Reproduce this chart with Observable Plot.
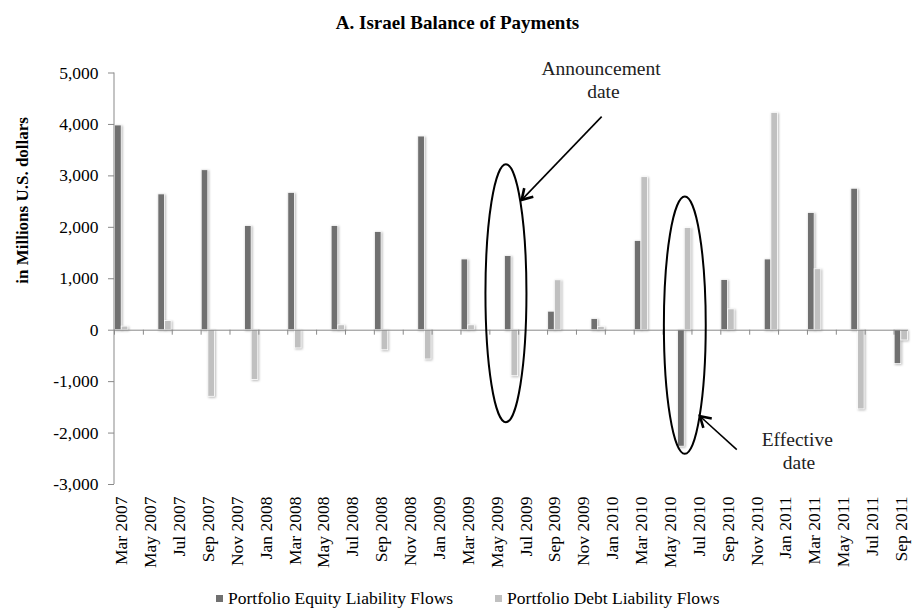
<!DOCTYPE html>
<html>
<head>
<meta charset="utf-8">
<script src="https://cdn.jsdelivr.net/npm/d3@7"></script>
<script src="https://cdn.jsdelivr.net/npm/@observablehq/plot@0.6"></script>
<style>
  body { margin: 0; background: #fff; font-family: 'Liberation Serif', 'Times New Roman', Times, serif; }
  #wrap { width: 915px; height: 616px; position: relative; background: #fff; }
  #title { height: 40px; box-sizing: border-box; padding-top: 7px; line-height: 32px; text-align: center; font-weight: bold; font-size: 19px; color: #000; }
  #legend { height: 36px; line-height: 36px; display: flex; align-items: center; padding-left: 216px; font-size: 17.5px; color: #000; }
  #legend .item { display: flex; align-items: center; }
  #legend .sw { width: 7px; height: 7px; margin-right: 5px; }
  #legend .item + .item { margin-left: 42px; }
  #chart svg text { font-family: 'Liberation Serif', 'Times New Roman', Times, serif; }
  #chart svg g[aria-label="bar"] { filter: drop-shadow(1.2px 1px 1px rgba(0,0,0,0.28)); }
</style>
</head>
<body>
<div id="wrap">
  <div id="title">A. Israel Balance of Payments</div>
  <div id="chart"></div>
  <div id="legend"></div>
</div>
<script>
// ---- data (millions of U.S. dollars, quarterly) ----
const quarters = ["Mar 2007","Jun 2007","Sep 2007","Dec 2007","Mar 2008","Jun 2008","Sep 2008","Dec 2008",
  "Mar 2009","Jun 2009","Sep 2009","Dec 2009","Mar 2010","Jun 2010","Sep 2010","Dec 2010","Mar 2011","Jun 2011","Sep 2011"];
const equity = [3980, 2640, 3110, 2025, 2670, 2025, 1910, 3765, 1375, 1440, 360, 215, 1735, -2265, 975, 1375, 2280, 2750, -660];
const debt   = [70, 180, -1295, -970, -355, 95, -390, -570, 95, -895, 970, 65, 2975, 1985, 405, 4225, 1185, -1540, -200];
const tickLabels = ["Mar 2007","May 2007","Jul 2007","Sep 2007","Nov 2007","Jan 2008","Mar 2008","May 2008","Jul 2008",
  "Sep 2008","Nov 2008","Jan 2009","Mar 2009","May 2009","Jul 2009","Sep 2009","Nov 2009","Jan 2010","Mar 2010",
  "May 2010","Jul 2010","Sep 2010","Nov 2010","Jan 2011","Mar 2011","May 2011","Jul 2011","Sep 2011"];
const yTicks = [-3000, -2000, -1000, 0, 1000, 2000, 3000, 4000, 5000];
const seriesNames = ["Portfolio Equity Liability Flows", "Portfolio Debt Liability Flows"];
const seriesColors = ["#707070", "#c0c0c0"];
const titleText = "A. Israel Balance of Payments";
const yLabel = "in Millions U.S. dollars";

// annotations (month slot + fraction of slot, value in data units)
const ellipses = [
  {month: "Jun 2009", shift: -0.35, halfWidth: 1.42, top: 3217, bottom: -1800},
  {month: "Jun 2010", shift: 0.04, halfWidth: 1.45, top: 2588, bottom: -2413}
];
const arrows = [
  {fromMonth: "Dec 2009", fromShift: 0.28, fromValue: 4142, toMonth: "Jul 2009", toShift: -0.26, toValue: 2524},
  {fromMonth: "Oct 2010", fromShift: -0.36, fromValue: -2330, toMonth: "Jul 2010", toShift: 0.09, toValue: -1683}
];
const notes = [
  {month: "Dec 2009", shift: 0.24, value: 4951, text: "Announcement"},
  {month: "Dec 2009", shift: 0.4, value: 4505, text: "date"},
  {month: "Feb 2011", shift: -0.17, value: -2266, text: "Effective"},
  {month: "Feb 2011", shift: -0.05, value: -2718, text: "date"}
];

// ---- layout ----
const W = 915, H = 540, ML = 114, MR = 7, MT = 32.5, MB = 96;
const FONT = "'Liberation Serif', 'Times New Roman', Times, serif";
const fmtMonth = d3.utcFormat("%b %Y");
const months = d3.utcMonth.range(new Date(Date.UTC(2007, 2, 1)), new Date(Date.UTC(2011, 9, 1))).map(fmtMonth);
const bw = (W - ML - MR) / months.length;
const rows = quarters.map((q, i) => ({quarter: q, equity: equity[i], debt: debt[i]}));
const axisGray = "#898989";

document.getElementById("title").textContent = titleText;

function annotate(index, scales, values, dims) {
  const x = scales.x, y = scales.y;
  const b = x.bandwidth();
  const px = (m, f) => x(m) + b / 2 + f * b;
  const g = d3.create("svg:g");
  // vertical axis line
  g.append("line")
    .attr("x1", dims.marginLeft).attr("x2", dims.marginLeft)
    .attr("y1", dims.marginTop).attr("y2", dims.height - dims.marginBottom)
    .attr("stroke", axisGray);
  for (const e of ellipses) {
    g.append("ellipse")
      .attr("cx", px(e.month, e.shift))
      .attr("cy", (y(e.top) + y(e.bottom)) / 2)
      .attr("rx", e.halfWidth * b)
      .attr("ry", Math.abs(y(e.bottom) - y(e.top)) / 2)
      .attr("fill", "none").attr("stroke", "#000").attr("stroke-width", 2);
  }
  for (const a of arrows) {
    const x1 = px(a.fromMonth, a.fromShift), y1 = y(a.fromValue);
    const x2 = px(a.toMonth, a.toShift), y2 = y(a.toValue);
    g.append("line").attr("x1", x1).attr("y1", y1).attr("x2", x2).attr("y2", y2)
      .attr("stroke", "#000").attr("stroke-width", 1.6);
    const ang = Math.atan2(y1 - y2, x1 - x2), L = 12, spread = 0.55;
    g.append("path")
      .attr("d", `M${x2 + L * Math.cos(ang - spread)},${y2 + L * Math.sin(ang - spread)}L${x2},${y2}L${x2 + L * Math.cos(ang + spread)},${y2 + L * Math.sin(ang + spread)}`)
      .attr("fill", "none").attr("stroke", "#000").attr("stroke-width", 2.6).attr("stroke-linejoin", "miter");
  }
  for (const n of notes) {
    g.append("text").attr("x", px(n.month, n.shift)).attr("y", y(n.value))
      .attr("text-anchor", "middle").attr("font-size", 19.5).attr("fill", "#222")
      .attr("font-family", FONT).text(n.text);
  }
  return g.node();
}

const chart = Plot.plot({
  width: W, height: H,
  marginLeft: ML, marginRight: MR, marginTop: MT, marginBottom: MB,
  style: {fontFamily: FONT, fontSize: "17.5px", color: "#000", background: "#fff", overflow: "visible"},
  x: {type: "band", domain: months, padding: 0, round: false, axis: null, label: null},
  y: {domain: [-3000, 5000], axis: null, label: null},
  marks: [
    Plot.barY(rows, {x: "quarter", y: "equity", fill: seriesColors[0], stroke: "#fff", strokeWidth: 0.8,
      insetLeft: bw * 0.04, insetRight: bw * 0.5}),
    Plot.barY(rows, {x: "quarter", y: "debt", fill: seriesColors[1], stroke: "#fff", strokeWidth: 0.8,
      insetLeft: bw * 0.5, insetRight: bw * 0.04}),
    Plot.ruleY([0], {stroke: axisGray, strokeWidth: 1}),
    Plot.ruleX(tickLabels, {x: d => d, y1: 0, y2: 0, insetBottom: -5, dx: -bw / 2, stroke: axisGray}),
    Plot.axisY(yTicks, {anchor: "left", tickSize: 6, tickPadding: 10, stroke: axisGray, color: "#000",
      tickFormat: d => d.toLocaleString("en-US"), fontSize: 17.5, label: null}),
    Plot.axisX(tickLabels, {anchor: "bottom", tickSize: 0, tickPadding: 12, tickRotate: -90, fontSize: 17.5, label: null}),
    Plot.text([yLabel], {frameAnchor: "left", rotate: -90, dx: -92, dy: 5, fontWeight: "bold", fontSize: 17, fill: "#000"}),
    annotate
  ]
});
document.getElementById("chart").appendChild(chart);

// legend
const legend = d3.select("#legend");
seriesNames.forEach((name, i) => {
  const it = legend.append("div").attr("class", "item");
  it.append("div").attr("class", "sw").style("background", seriesColors[i]);
  it.append("span").text(name);
});
</script>
</body>
</html>
